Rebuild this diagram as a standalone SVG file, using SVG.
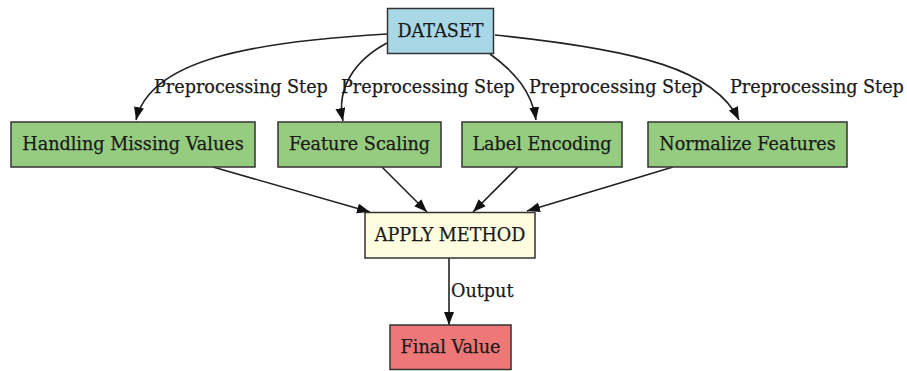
<svg xmlns="http://www.w3.org/2000/svg" width="907" height="371" viewBox="0 0 907 371">
  <defs>
    <marker id="arrow" markerUnits="userSpaceOnUse" markerWidth="14" markerHeight="11" refX="13" refY="5" orient="auto">
      <path d="M0,0 L13,5 L0,10 z" fill="#111"/>
    </marker>
    <style>
      .box { stroke: #333; stroke-width: 1.5; }
      .lbl { font-family: "DejaVu Serif", serif; font-size: 17.6px; fill: #1a1a1a; stroke: #1a1a1a; stroke-width: 0.25; text-anchor: middle; }
      .elbl { font-family: "DejaVu Serif", serif; font-size: 17.6px; fill: #1a1a1a; stroke: #1a1a1a; stroke-width: 0.25; }
      .edge { fill: none; stroke: #222; stroke-width: 1.6; marker-end: url(#arrow); }
    </style>
  </defs>
  <rect width="907" height="371" fill="#fff"/>

  <g id="edges">
    <path class="edge" d="M387,34 C250,42 150,60 136,120"/>
    <path class="edge" d="M387,43 C355,60 336,88 343,121"/>
    <path class="edge" d="M490,54 C515,72 532,92 536,120"/>
    <path class="edge" d="M495,35 C640,50 715,70 739,120"/>
    <path class="edge" d="M213,167 L370,212"/>
    <path class="edge" d="M382,167 L427,212"/>
    <path class="edge" d="M518,167 L473,212"/>
    <path class="edge" d="M673,167 L527,211"/>
    <path class="edge" d="M449,258 L449,325"/>
    <text class="elbl" x="154" y="93">Preprocessing Step</text>
    <text class="elbl" x="341" y="93">Preprocessing Step</text>
    <text class="elbl" x="529" y="93">Preprocessing Step</text>
    <text class="elbl" x="730" y="93">Preprocessing Step</text>
    <text class="elbl" x="451" y="297">Output</text>
  </g>

  <g id="dataset">
    <rect class="box" x="387.5" y="8.5" width="106" height="45" fill="#a8d8e6"/>
    <text class="lbl" x="440.5" y="37">DATASET</text>
  </g>
  <g id="missing">
    <rect class="box" x="11" y="122" width="244" height="45" fill="#96cc80"/>
    <text class="lbl" x="133" y="150">Handling Missing Values</text>
  </g>
  <g id="scaling">
    <rect class="box" x="278" y="122" width="163" height="45" fill="#96cc80"/>
    <text class="lbl" x="359.5" y="150">Feature Scaling</text>
  </g>
  <g id="encoding">
    <rect class="box" x="462" y="122" width="160" height="45" fill="#96cc80"/>
    <text class="lbl" x="542" y="150">Label Encoding</text>
  </g>
  <g id="normalize">
    <rect class="box" x="648" y="122" width="199" height="45" fill="#96cc80"/>
    <text class="lbl" x="747.5" y="150">Normalize Features</text>
  </g>
  <g id="apply">
    <rect class="box" x="365" y="212.5" width="170" height="45.5" fill="#fffde0"/>
    <text class="lbl" x="450" y="241">APPLY METHOD</text>
  </g>
  <g id="final">
    <rect class="box" x="390" y="325" width="121" height="44.5" fill="#ee7777"/>
    <text class="lbl" x="450.5" y="353">Final Value</text>
  </g>
</svg>
